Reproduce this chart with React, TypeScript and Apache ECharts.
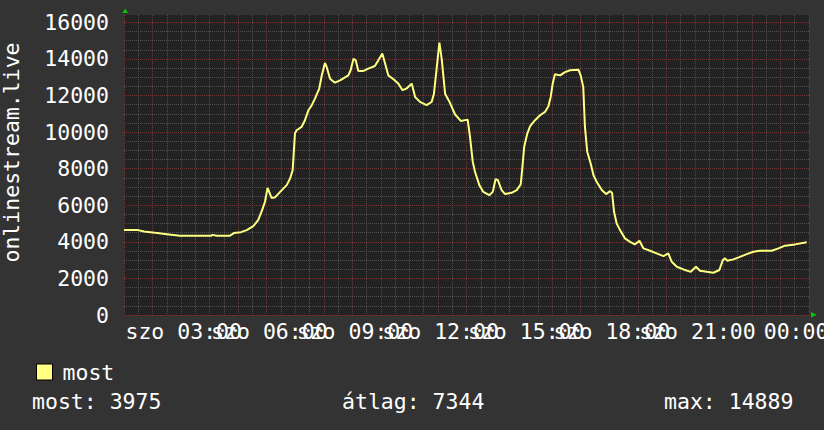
import React, { useEffect, useRef } from 'react';
import * as echarts from 'echarts';

// time of day (hours since szo 00:00)
const hours = [
  0.0, 0.5, 0.7, 1.0, 1.1, 1.5, 1.96, 2.5, 3.05, 3.1, 3.25, 3.7, 3.85, 4.1, 4.3, 4.53, 4.7, 4.84, 4.94,
  5.03, 5.17, 5.3, 5.47, 5.7, 5.82, 5.91, 5.99, 6.05, 6.22, 6.34, 6.46, 6.58, 6.69, 6.84, 6.93, 7.04,
  7.1, 7.22, 7.39, 7.57, 7.86, 7.94, 8.04, 8.12, 8.21, 8.39, 8.56, 8.79, 8.91, 9.05, 9.15, 9.26, 9.44,
  9.61, 9.76, 9.9, 10.08, 10.2, 10.37, 10.6, 10.78, 10.86, 10.96, 11.05, 11.13, 11.25, 11.42, 11.6,
  11.8, 12.04, 12.12, 12.22, 12.3, 12.45, 12.59, 12.8, 12.92, 13.02, 13.1, 13.23, 13.35, 13.58, 13.76,
  13.9, 13.97, 14.02, 14.13, 14.23, 14.4, 14.58, 14.75, 14.87, 14.95, 15.02, 15.1, 15.28, 15.45, 15.63,
  15.92, 16.0, 16.09, 16.15, 16.23, 16.35, 16.45, 16.56, 16.74, 16.89, 17.03, 17.1, 17.17, 17.26, 17.38,
  17.55, 17.73, 17.9, 18.06, 18.2, 18.43, 18.66, 18.9, 19.07, 19.19, 19.37, 19.6, 19.86, 20.04, 20.18,
  20.42, 20.65, 20.86, 20.98, 21.06, 21.13, 21.35, 21.58, 21.82, 22.05, 22.28, 22.69, 22.93, 23.16,
  23.51, 23.92,
];

// "most" series values
const most = [
  4640, 4640, 4560, 4510, 4490, 4420, 4330, 4330, 4330, 4380, 4330, 4330, 4480, 4530, 4640, 4860, 5190, 5730, 6190,
  6950, 6400, 6440, 6730, 7100, 7460, 7920, 9930, 10100, 10280, 10650, 11190, 11470, 11830, 12380, 13100, 13780,
  13560, 12920, 12700, 12830, 13100, 13380, 14010, 13920, 13340, 13340, 13470, 13610, 13920, 14290, 13740, 13100, 12890,
  12650, 12290, 12380, 12650, 11920, 11650, 11470, 11650, 12100, 13560, 14889, 14010, 12100, 11600, 10960,
  10610, 10680, 9780, 8370, 7820, 7100, 6730, 6550, 6730, 7430, 7370, 6830, 6610, 6680, 6830,
  7140, 8280, 9190, 9920, 10320, 10650, 10920, 11100, 11410, 11920, 12650, 13160, 13100, 13280, 13380,
  13410, 13100, 12470, 10280, 8920, 8280, 7640, 7280, 6830, 6610, 6770, 6680, 5640, 5010, 4640,
  4190, 4000, 3860, 4060, 3640, 3510, 3370, 3220, 3370, 2910, 2640, 2490, 2360, 2640, 2420,
  2360, 2310, 2460, 3000, 3100, 2970, 3040, 3180, 3330, 3460, 3510, 3510, 3640, 3790,
  3860, 3975,
];

const xTickHours = [3, 6, 9, 12, 15, 18, 21, 24];
const xTickLabels = ['szo 03:00', 'szo 06:00', 'szo 09:00', 'szo 12:00', 'szo 15:00', 'szo 18:00', 'szo 21:00', '00:00'];
const yTickValues = [0, 2000, 4000, 6000, 8000, 10000, 12000, 14000, 16000];
const seriesName = 'most';
const yAxisTitle = 'onlinestream.live';
const statTexts = ['most: 3975', 'átlag: 7344', 'max: 14889'];

const FONT = 'DejaVu Sans Mono';
const FS = 21.5;
const MAJOR = '#743636';
const MINOR = '#4f4f4f';
const LINE = '#ffff80';
const NB = '\u00a0';

export default function App() {
  const ref = useRef<HTMLDivElement>(null);
  useEffect(() => {
    if (!ref.current) return;
    const chart = echarts.init(ref.current, null, { renderer: 'svg' });
    const data = hours.map((h, i) => [h, most[i]]);
    const statX = [32, 342, 664];
    chart.setOption({
      animation: false,
      backgroundColor: '#333333',
      grid: {
        left: 124, right: 15, top: 15, bottom: 115,
        show: true, backgroundColor: '#222222', borderWidth: 0,
        containLabel: false,
        outerBoundsMode: 'none',
      },
      legend: {
        data: [seriesName],
        left: 31, top: 356,
        icon: 'rect',
        itemWidth: 16, itemHeight: 16,
        itemStyle: { color: LINE, borderColor: '#000', borderWidth: 1 },
        textStyle: { color: '#ffffff', fontFamily: FONT, fontSize: FS, padding: [0, 0, 0, 5] },
      },
      xAxis: {
        type: 'value', min: 0, max: 24, interval: 0.5,
        axisLine: { show: false }, axisTick: { show: false },
        splitLine: { show: true, lineStyle: { color: [MAJOR, MINOR], type: 'dotted', width: 1 } },
        axisLabel: {
          color: '#ffffff', fontFamily: FONT, fontSize: FS, margin: 5,
          showMinLabel: true, showMaxLabel: true, hideOverlap: false,
          formatter: (v: number) => {
            const idx = xTickHours.findIndex((h) => Math.abs(h - v) < 1e-6);
            if (idx < 0) return '';
            const lab = xTickLabels[idx];
            return idx === xTickHours.length - 1 ? lab + NB + NB : lab + NB + NB + NB + NB;
          },
        },
      },
      yAxis: {
        type: 'value', min: 0, max: 16400, interval: 500,
        axisLine: { show: false }, axisTick: { show: false },
        splitLine: { show: true, showMaxLine: false, lineStyle: { color: [MAJOR, MINOR, MINOR, MINOR], type: 'dotted', width: 1 } },
        axisLabel: {
          color: '#ffffff', fontFamily: FONT, fontSize: FS, margin: 15,
          formatter: (v: number) => (yTickValues.indexOf(v) >= 0 ? String(v) : ''),
        },
      },
      series: [
        {
          name: seriesName, type: 'line', data,
          showSymbol: false, symbol: 'none',
          lineStyle: { color: LINE, width: 2 },
          itemStyle: { color: LINE },
        },
      ],
      graphic: [
        {
          type: 'text', x: 11, y: 152.5, rotation: Math.PI / 2,
          style: { text: yAxisTitle, fill: '#ffffff', font: `${FS}px ${FONT}`, align: 'center', verticalAlign: 'middle' },
        },
        ...statTexts.map((t, i) => ({
          type: 'text', x: statX[i], y: 401,
          style: { text: t, fill: '#ffffff', font: `${FS}px ${FONT}`, align: 'left', verticalAlign: 'middle' },
        })),
        {
          type: 'polygon', shape: { points: [[122.5, 13], [128, 13], [125.25, 8.5]] },
          style: { fill: '#00cc00' },
        },
        {
          type: 'polygon', shape: { points: [[811, 312], [811, 317.5], [816.5, 314.75]] },
          style: { fill: '#00cc00' },
        },
      ],
    });
    return () => chart.dispose();
  }, []);
  return <div ref={ref} style={{ position: 'fixed', left: 0, top: 0, width: 824, height: 430 }} />;
}
